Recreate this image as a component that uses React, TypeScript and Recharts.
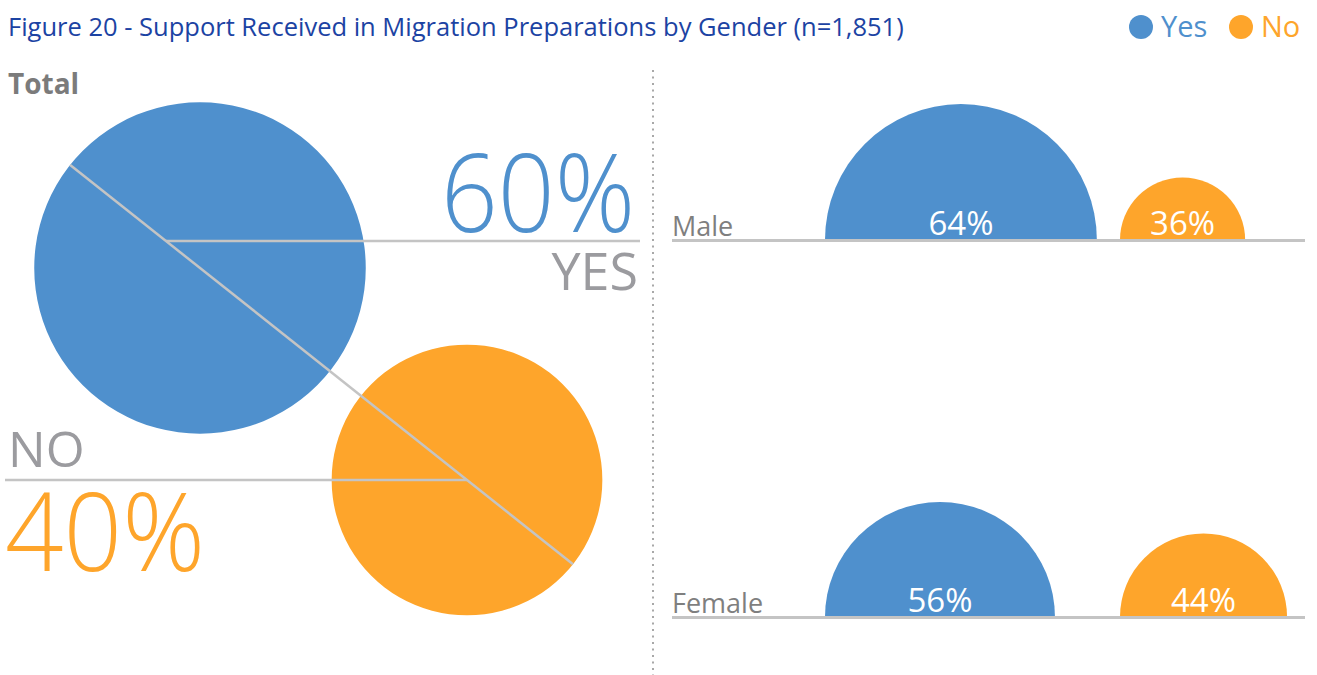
import React from "react";
import { PieChart, Pie, Cell } from "recharts";

// categories and values
const categories = ["Yes", "No"];
const totalValues = [60, 40];
const genders = ["Male", "Female"];
const maleValues = [64, 36];
const femaleValues = [56, 44];
const title = "Figure 20 - Support Received in Migration Preparations by Gender (n=1,851)";

const COLORS = ["#4f90cd", "#fea52b"];
const W = 1317;
const H = 675;
const FONT = "'Open Sans', 'Noto Sans', sans-serif";

// size scales (total: area ~ value, gender rows: linear)
const totalRadius = (v: number) => 21.4 * Math.sqrt(v);
const genderRadius = (v: number) => 2.62 * v - 31.75;

// layout
const totalCenters = [
  { cx: 200, cy: 268 },
  { cx: 467, cy: 480 },
];
const rowBase = [240, 617];
const colLeft = [825, 1120];

const genderRows = [maleValues, femaleValues];

const semiLabel = (p: any) => (
  <text
    x={p.cx}
    y={p.cy - 5}
    textAnchor="middle"
    fill="#fff"
    fontSize={33}
    fontFamily={FONT}
  >
    {p.value}%
  </text>
);

// texts and guide lines, drawn on top of the pies
function Overlay() {
  const [a, b] = totalCenters;
  const ra = totalRadius(totalValues[0]);
  const rb = totalRadius(totalValues[1]);
  const dx = b.cx - a.cx;
  const dy = b.cy - a.cy;
  const len = Math.sqrt(dx * dx + dy * dy);
  const ux = dx / len;
  const uy = dy / len;
  const start = { x: a.cx - ra * ux, y: a.cy - ra * uy };
  const end = { x: b.cx + rb * ux, y: b.cy + rb * uy };
  const yesY = 241;
  const yesX = a.cx + (yesY - a.cy) * (dx / dy);

  return (
    <svg
      width={W}
      height={H}
      style={{ position: "absolute", left: 0, top: 0, pointerEvents: "none" }}
      fontFamily={FONT}
    >
      <text x={8} y={36} fontSize={25.5} fill="#1c43a3">{title}</text>

      {categories.map((c, i) => (
        <g key={c}>
          <circle cx={1141 + i * 100} cy={27} r={12} fill={COLORS[i]} />
          <text x={1161 + i * 100} y={37} fontSize={29} fill={COLORS[i]}>{c}</text>
        </g>
      ))}

      <text x={8} y={94} fontSize={28} fontWeight={700} fill="#7b7b7b">Total</text>

      <line x1={start.x} y1={start.y} x2={end.x} y2={end.y} stroke="#c4c4c4" strokeWidth={2.5} />
      <line x1={yesX} y1={yesY} x2={640} y2={yesY} stroke="#c4c4c4" strokeWidth={2.5} />
      <line x1={5} y1={b.cy} x2={b.cx} y2={b.cy} stroke="#c4c4c4" strokeWidth={2.5} />

      <text x={635} y={232} textAnchor="end" fontSize={108} fontWeight={300}
        textLength={194} lengthAdjust="spacingAndGlyphs" fill={COLORS[0]}>
        {totalValues[0]}%
      </text>
      <text x={638} y={290} textAnchor="end" fontSize={52} fill="#9b9b9f">
        {categories[0].toUpperCase()}
      </text>
      <text x={8} y={467} fontSize={50} fill="#9b9b9f">
        {categories[1].toUpperCase()}
      </text>
      <text x={5} y={571} fontSize={108} fontWeight={300}
        textLength={200} lengthAdjust="spacingAndGlyphs" fill={COLORS[1]}>
        {totalValues[1]}%
      </text>

      <line x1={653} y1={70} x2={653} y2={H} stroke="#a8a8a8" strokeWidth={2} strokeDasharray="2 4.5" />

      {genders.map((g, i) => (
        <g key={g}>
          <line x1={672} y1={rowBase[i] + 0.5} x2={1305} y2={rowBase[i] + 0.5} stroke="#c4c4c4" strokeWidth={3} />
          <text x={672} y={rowBase[i] - 4} fontSize={27} fill="#7f7f7f">{g}</text>
        </g>
      ))}
    </svg>
  );
}

export default function App() {
  return (
    <div style={{ position: "relative", width: W, height: H, background: "#fff" }}>
      <style>{"body{margin:0}"}</style>
      <PieChart width={W} height={H} margin={{ top: 0, right: 0, bottom: 0, left: 0 }}>
        {totalValues.map((v, i) => (
          <Pie
            key={"total-" + categories[i]}
            data={[{ name: categories[i], value: v }]}
            dataKey="value"
            cx={totalCenters[i].cx}
            cy={totalCenters[i].cy}
            innerRadius={0}
            outerRadius={totalRadius(v)}
            startAngle={90}
            endAngle={450}
            stroke="none"
            isAnimationActive={false}
          >
            <Cell fill={COLORS[i]} />
          </Pie>
        ))}
        {genderRows.map((row, r) =>
          row.map((v, i) => {
            const rad = genderRadius(v);
            return (
              <Pie
                key={genders[r] + "-" + categories[i]}
                data={[{ name: categories[i], value: v }]}
                dataKey="value"
                cx={colLeft[i] + rad}
                cy={rowBase[r]}
                innerRadius={0}
                outerRadius={rad}
                startAngle={0}
                endAngle={180}
                stroke="none"
                label={semiLabel}
                labelLine={false}
                isAnimationActive={false}
              >
                <Cell fill={COLORS[i]} />
              </Pie>
            );
          })
        )}
      </PieChart>
      <Overlay />
    </div>
  );
}
